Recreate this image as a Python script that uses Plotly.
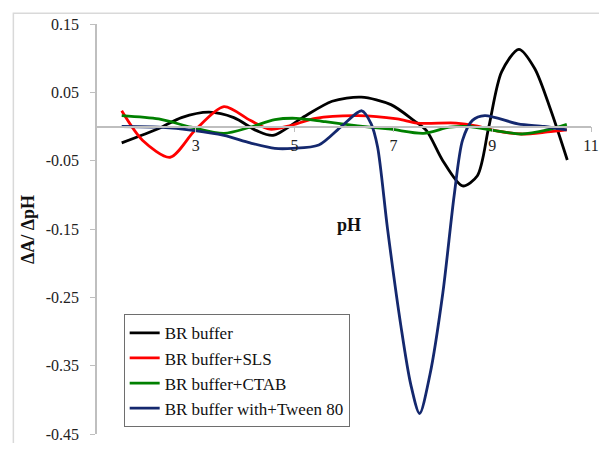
import plotly.graph_objects as go

# ---- data ----
br_ph = [1.5, 2.25, 2.71, 3.27, 3.77, 4.23, 4.56, 5.16, 5.76, 6.35, 6.95, 7.41, 7.67, 8.0, 8.4, 8.7, 8.93, 9.19, 9.54, 9.86, 10.19, 10.52]
br_val = [-0.024, -0.003, 0.013, 0.021, 0.013, -0.006, -0.013, 0.013, 0.037, 0.043, 0.032, 0.009, -0.006, -0.050, -0.087, -0.072, -0.001, 0.080, 0.113, 0.085, 0.023, -0.049]

sls_ph = [1.5, 1.92, 2.48, 2.98, 3.57, 4.10, 4.5, 4.9, 5.42, 6.28, 7.08, 7.48, 8.27, 8.67, 9.06, 9.59, 10.12, 10.51]
sls_val = [0.023, -0.020, -0.045, -0.006, 0.029, 0.009, -0.004, 0.001, 0.012, 0.016, 0.011, 0.005, 0.005, 0.001, -0.006, -0.011, -0.008, -0.005]

ctab_ph = [1.5, 2.25, 2.91, 3.57, 4.10, 4.6, 5.03, 5.62, 6.28, 6.95, 7.61, 8.14, 8.53, 9.06, 9.59, 10.12, 10.51]
ctab_val = [0.016, 0.011, -0.001, -0.010, -0.001, 0.010, 0.012, 0.007, 0.001, -0.004, -0.010, -0.001, 0.000, -0.006, -0.011, -0.005, 0.003]

tween_ph = [1.5, 2.25, 2.98, 3.57, 4.1, 4.6, 4.96, 5.49, 5.96, 6.36, 6.55, 6.68, 6.88, 7.15, 7.35, 7.53, 7.74, 8.0, 8.23, 8.4, 8.6, 8.85, 9.52, 10.05, 10.51]
tween_val = [0.000, -0.001, -0.006, -0.013, -0.024, -0.032, -0.032, -0.027, 0.001, 0.023, 0.004, -0.030, -0.149, -0.291, -0.377, -0.420, -0.363, -0.244, -0.101, -0.020, 0.009, 0.016, 0.004, 0.000, -0.005]

series_names = ["BR buffer", "BR buffer+SLS", "BR buffer+CTAB", "BR buffer with+Tween 80"]
series_colors = ["#000000", "#ff0000", "#008000", "#14286e"]

x_ticks = [3, 5, 7, 9, 11]
y_ticks = [0.15, 0.05, -0.05, -0.15, -0.25, -0.35, -0.45]
y_ticktext = ["0.15", "0.05", "-0.05", "-0.15", "-0.25", "-0.35", "-0.45"]

FONT = "Liberation Serif"

fig = go.Figure()
for xs, ys, name, col in zip([br_ph, sls_ph, ctab_ph, tween_ph],
                             [br_val, sls_val, ctab_val, tween_val],
                             series_names, series_colors):
    fig.add_trace(go.Scatter(x=xs, y=ys, mode="lines", name=name,
                             line=dict(color=col, width=2.8, shape="spline", smoothing=0.8)))

# page body has an 8px margin: a 591x435 figure makes the page exactly 607x451
fig.update_layout(
    width=591, height=435,
    margin=dict(l=89, r=0, t=16, b=3),
    paper_bgcolor="white", plot_bgcolor="white",
    font=dict(family=FONT, size=16, color="#222222"),
    showlegend=True,
    legend=dict(x=0.054, y=0.292, xanchor="left", yanchor="top",
                bgcolor="white", bordercolor="#6e6e6e", borderwidth=1,
                font=dict(family=FONT, size=17, color="#111111"),
                itemwidth=30, tracegroupgap=0),
    xaxis=dict(range=[1, 11], tickvals=x_ticks, showgrid=False, zeroline=False,
               showline=True, linecolor="#bfbfbf", linewidth=1.5,
               ticks="outside", ticklen=5, tickcolor="#bfbfbf",
               anchor="free", position=0.75, side="bottom",
               ticklabeloverflow="allow",
               tickfont=dict(family=FONT, size=16, color="#222222")),
    yaxis=dict(range=[-0.45, 0.15], tickvals=y_ticks, ticktext=y_ticktext,
               showgrid=False, zeroline=False,
               showline=True, linecolor="#bfbfbf", linewidth=1.5,
               ticks="outside", ticklen=5, tickcolor="#bfbfbf",
               ticklabelstandoff=8, ticklabeloverflow="allow",
               tickfont=dict(family=FONT, size=16, color="#222222")),
    shapes=[dict(type="rect", xref="paper", yref="paper",
                 x0=-0.1693, y0=-0.2, x1=1.2, y1=1.0265,
                 line=dict(color="#d9d9d9", width=1.5), fillcolor="rgba(0,0,0,0)",
                 layer="below")],
    annotations=[
        dict(text="<b>pH</b>", xref="paper", yref="paper", x=0.51, y=0.51,
             xanchor="center", yanchor="middle",
             showarrow=False, font=dict(family=FONT, size=18, color="#111111")),
        dict(text="<b>ΔA/ ΔpH</b>", xref="paper", yref="paper", x=-0.1394, y=0.498,
             xanchor="center", yanchor="middle",
             textangle=-90, showarrow=False,
             font=dict(family=FONT, size=18, color="#111111")),
    ],
)

fig.write_html("out.html", config={"displayModeBar": False})
